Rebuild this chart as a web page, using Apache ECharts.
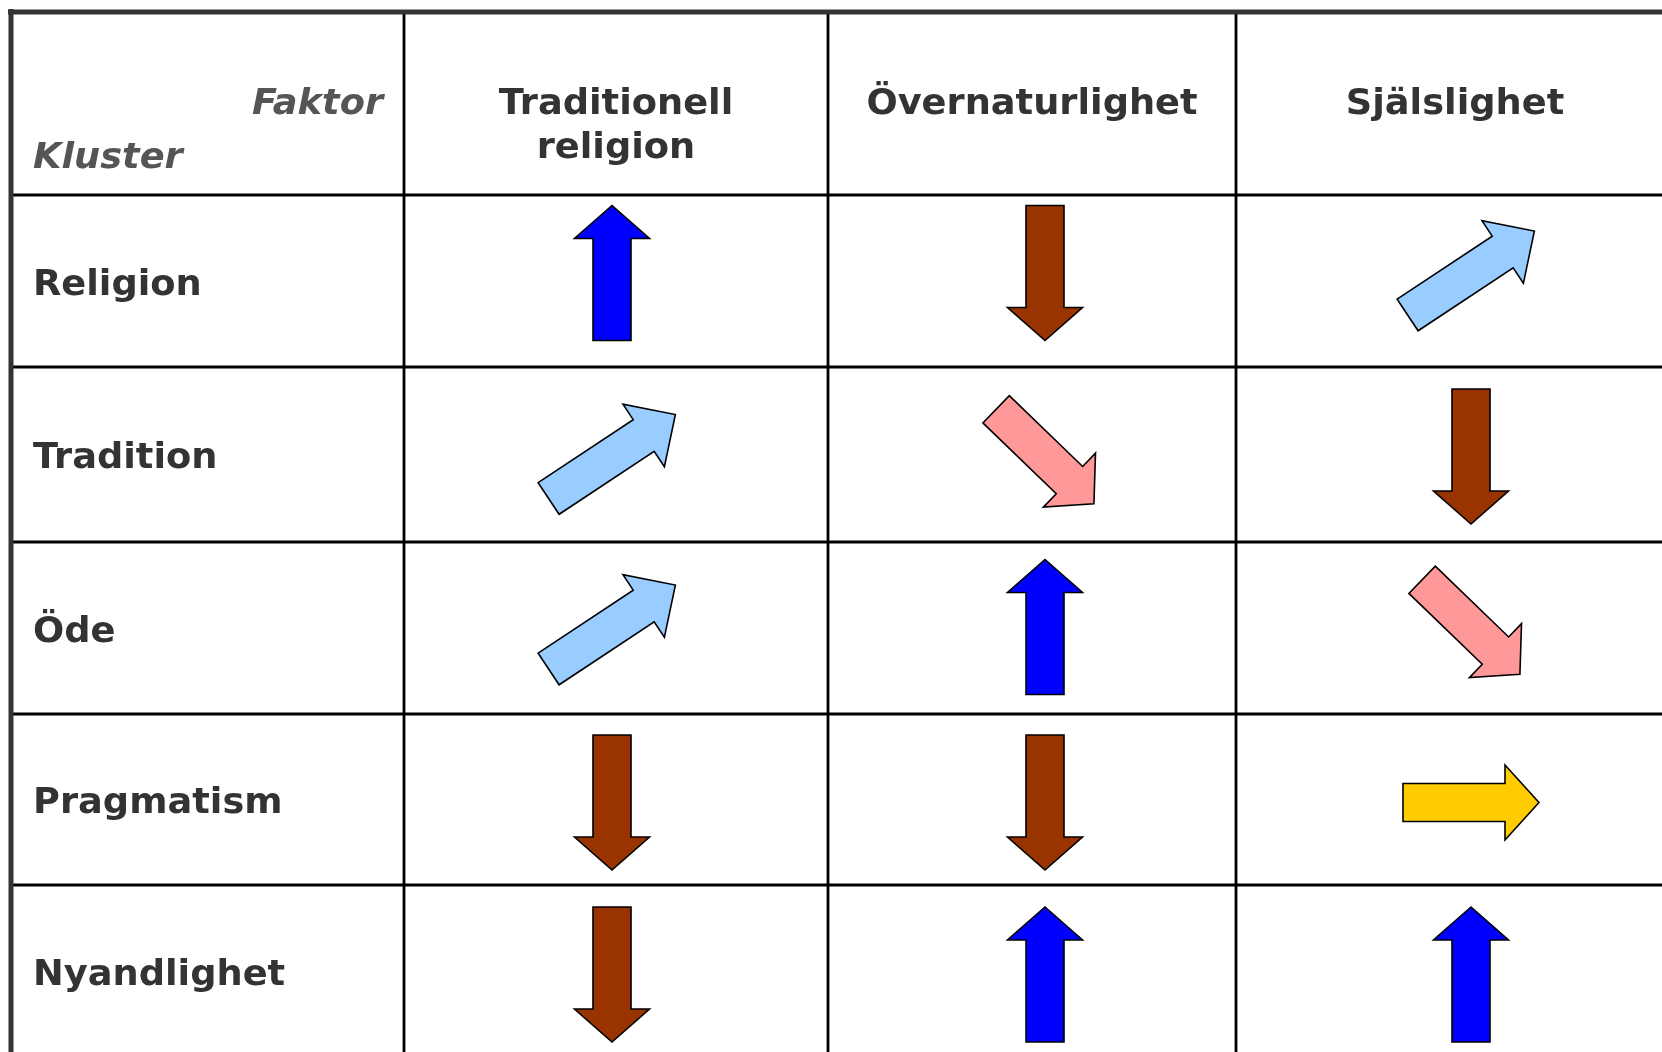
<!DOCTYPE html>
<html><head><meta charset="utf-8">
<script src="https://cdn.jsdelivr.net/npm/echarts@6/dist/echarts.min.js"></script>
<style>html,body{margin:0;padding:0;background:#fff}#c{width:1662px;height:1052px}</style>
</head><body><div id="c"></div>
<script>
// ---------- data ----------
const factors = ['Traditionell\nreligion', 'Övernaturlighet', 'Själslighet'];
const clusters = ['Religion', 'Tradition', 'Öde', 'Pragmatism', 'Nyandlighet'];
// arrow level per cluster: 2 = strongly up, 1 = up, 0 = neutral, -1 = down, -2 = strongly down
const tradReligion    = [2, 1, 1, -2, -2];
const overnaturlighet = [-2, -1, 2, -2, 2];
const sjalslighet     = [1, -2, -1, 0, 2];
const cornerFactor = 'Faktor';
const cornerCluster = 'Kluster';

// ---------- layout / style ----------
const W = 1662, H = 1052;
const colEdges = [11, 404, 828, 1236, 1674];
const rowEdges = [12, 195, 367, 542, 714, 885, 1058];
const arrowShiftX = [-4, 13, 16];
const arrowShiftY = [-8, 2, -1, 3, 3];
const textDy = 4.5;
const headerY = 100 + textDy, headerGap = 44, labelX = 33;
const FONT = '"DejaVu Sans", Verdana, sans-serif';
const levelStyle = {
  '2':  {angle: 90,   len: 135, head: 33, color: '#0000FF'},
  '1':  {angle: 33.5, len: 152, head: 38, color: '#99CCFF'},
  '0':  {angle: 0,    len: 136, head: 34, color: '#FFCC00'},
  '-1': {angle: -44,  len: 136, head: 34, color: '#FF9999'},
  '-2': {angle: -90,  len: 135, head: 33, color: '#993300'}
};
const shaftW = 38, headW = 75;

// ---------- build ----------
const factorLevels = [tradReligion, overnaturlighet, sjalslighet];
const arrowData = [];
factorLevels.forEach((arr, c) => {
  arr.forEach((lv, r) => {
    const cx = (colEdges[c + 1] + colEdges[c + 2]) / 2 + arrowShiftX[c];
    const cy = (rowEdges[r + 1] + rowEdges[r + 2]) / 2 + arrowShiftY[r];
    arrowData.push([cx, cy, lv]);
  });
});

const lineData = [];
for (let i = 1; i <= 3; i++) lineData.push([colEdges[i], rowEdges[0], colEdges[i], H, 2.8, '#000']);
for (let j = 1; j <= 5; j++) lineData.push([colEdges[0], rowEdges[j], W, rowEdges[j], 2.8, '#000']);
lineData.push([8, rowEdges[0], W, rowEdges[0], 5, '#333']);
lineData.push([colEdges[0], 9, colEdges[0], H, 5, '#333']);

const textItems = [];
const bold = 'bold 35px ' + FONT;
const ital = 'italic bold 35px ' + FONT;
textItems.push({x: colEdges[1] - 21, y: headerY, text: cornerFactor, font: ital, fill: '#555', align: 'right'});
textItems.push({x: labelX, y: headerY + 54, text: cornerCluster, font: ital, fill: '#555', align: 'left'});
factors.forEach((f, c) => {
  const cx = (colEdges[c + 1] + colEdges[c + 2]) / 2;
  f.split('\n').forEach((ln, k) => {
    textItems.push({x: cx, y: headerY + k * headerGap, text: ln, font: bold, fill: '#333', align: 'center'});
  });
});
clusters.forEach((name, r) => {
  textItems.push({x: labelX, y: (rowEdges[r + 1] + rowEdges[r + 2]) / 2 + textDy, text: name, font: bold, fill: '#333', align: 'left'});
});

const chart = echarts.init(document.getElementById('c'), null, {renderer: 'canvas', width: W, height: H});
chart.setOption({
  animation: false,
  backgroundColor: '#fff',
  grid: {left: 0, right: 0, top: 0, bottom: 0},
  xAxis: {type: 'value', min: 0, max: W, show: false},
  yAxis: {type: 'value', min: 0, max: H, inverse: true, show: false},
  series: [
    {
      type: 'custom', clip: false, silent: true,
      data: lineData.map(d => [d[0], d[1], d[2], d[3]]),
      encode: {x: [0, 2], y: [1, 3]},
      renderItem: (params, api) => {
        const d = lineData[params.dataIndex];
        const p1 = api.coord([d[0], d[1]]), p2 = api.coord([d[2], d[3]]);
        return {type: 'line', shape: {x1: p1[0], y1: p1[1], x2: p2[0], y2: p2[1]},
          style: {stroke: d[5], lineWidth: d[4]}};
      }
    },
    {
      type: 'custom', clip: false, silent: true,
      data: arrowData,
      encode: {x: 0, y: 1},
      renderItem: (params, api) => {
        const lv = api.value(2);
        const s = levelStyle[String(lv)];
        const c = api.coord([api.value(0), api.value(1)]);
        const L = s.len, hl = s.head, a = s.angle * Math.PI / 180;
        const pts = [[-L/2, -shaftW/2], [L/2 - hl, -shaftW/2], [L/2 - hl, -headW/2], [L/2, 0],
                     [L/2 - hl, headW/2], [L/2 - hl, shaftW/2], [-L/2, shaftW/2]];
        const ca = Math.cos(a), sa = Math.sin(a);
        const out = pts.map(p => [c[0] + p[0] * ca + p[1] * sa, c[1] - p[0] * sa + p[1] * ca]);
        return {type: 'polygon', shape: {points: out},
          style: {fill: s.color, stroke: '#000', lineWidth: 1.6, lineJoin: 'miter'}};
      }
    },
    {
      type: 'custom', clip: false, silent: true,
      data: textItems.map(t => [t.x, t.y]),
      encode: {x: 0, y: 1},
      renderItem: (params, api) => {
        const t = textItems[params.dataIndex];
        const p = api.coord([t.x, t.y]);
        return {type: 'text', x: p[0], y: p[1], scaleX: 1.05,
          style: {text: t.text, fill: t.fill, font: t.font, align: t.align, verticalAlign: 'middle'}};
      }
    }
  ]
});
</script>
</body></html>
